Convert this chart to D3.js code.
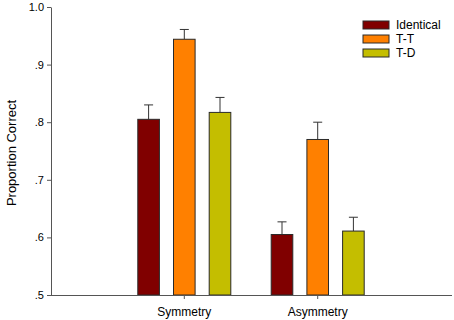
<!DOCTYPE html>
<html><head><meta charset="utf-8">
<script src="https://cdn.jsdelivr.net/npm/d3@7"></script>
<style>body{margin:0;background:#fff;}svg{display:block;font-family:"Liberation Sans",Arial,sans-serif;}</style>
</head><body>
<svg id="c" width="454" height="320"></svg>
<script>
const categories = ["Symmetry", "Asymmetry"];
const seriesNames = ["Identical", "T-T", "T-D"];
const seriesColors = ["#800000", "#FF8000", "#C4BE00"];
const identicalVals = [0.805, 0.605];
const ttVals = [0.944, 0.770];
const tdVals = [0.817, 0.611];
const identicalErr = [0.025, 0.022];
const ttErr = [0.017, 0.030];
const tdErr = [0.026, 0.024];
const yTicks = [0.5, 0.6, 0.7, 0.8, 0.9, 1.0];
const yTickLabels = [".5", ".6", ".7", ".8", ".9", "1.0"];

(function(){
const values = [identicalVals, ttVals, tdVals];
const errs = [identicalErr, ttErr, tdErr];

const svg = d3.select("#c");
const mLeft = 51, mRight = 452, mTop = 7, mBottom = 295;
const y = d3.scaleLinear().domain([0.5, 1.0]).range([mBottom, mTop]);
const x = d3.scaleLinear().domain([0, 1]).range([184.3, 317.7]);
const step = 35.7, bw = 21.6;

const yAxis = d3.axisLeft(y).tickValues(yTicks).tickFormat((d,i)=>yTickLabels[i]).tickSize(4).tickSizeOuter(0);
const gy = svg.append("g").attr("transform", `translate(${mLeft},0)`).call(yAxis);
gy.select(".domain").attr("stroke", "#555");
gy.selectAll(".tick line").attr("stroke", "#555");
gy.selectAll(".tick text").attr("font-size", 11).attr("fill", "#000").attr("font-family", "Liberation Sans, Arial, sans-serif").attr("x", -7);

categories.forEach((c, ci) => {
  seriesNames.forEach((s, si) => {
    const cx = x(ci) + (si - 1) * step;
    const v = values[si][ci], e = errs[si][ci];
    svg.append("line").attr("x1", cx).attr("x2", cx).attr("y1", y(v)).attr("y2", y(v + e)).attr("stroke", "#333").attr("stroke-width", 1);
    svg.append("line").attr("x1", cx - 4.5).attr("x2", cx + 4.5).attr("y1", y(v + e)).attr("y2", y(v + e)).attr("stroke", "#333").attr("stroke-width", 1);
    svg.append("rect").attr("x", cx - bw / 2).attr("y", y(v)).attr("width", bw).attr("height", y(0.5) - y(v))
      .attr("fill", seriesColors[si]).attr("stroke", "#2a2a2a").attr("stroke-width", 1);
  });
});

svg.append("line").attr("x1", mLeft).attr("x2", mRight).attr("y1", mBottom + 0.5).attr("y2", mBottom + 0.5).attr("stroke", "#555");
categories.forEach((c, ci) => {
  svg.append("line").attr("x1", x(ci)).attr("x2", x(ci)).attr("y1", mBottom).attr("y2", mBottom + 4).attr("stroke", "#555");
  svg.append("text").attr("x", x(ci)).attr("y", 315.5).attr("text-anchor", "middle").attr("font-size", 12).text(c);
});

svg.append("text").attr("transform", "translate(16,153) rotate(-90)").attr("text-anchor", "middle").attr("font-size", 13).text("Proportion Correct");

seriesNames.forEach((s, si) => {
  const ly = 25 + si * 14;
  svg.append("rect").attr("x", 363).attr("y", ly - 4).attr("width", 26).attr("height", 8).attr("fill", seriesColors[si]).attr("stroke", "#2a2a2a");
  svg.append("text").attr("x", 396).attr("y", ly + 4.3).attr("font-size", 12).text(s);
});
})();
</script>
</body></html>
